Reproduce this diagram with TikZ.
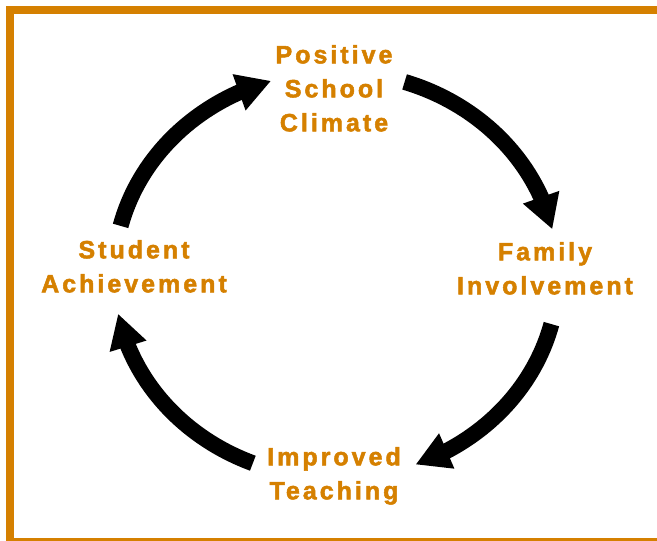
\documentclass[tikz,border=0pt]{standalone}
\usepackage{fontspec}
\setmainfont{Liberation Sans}
\newfontfamily\stagefont[LetterSpace=12,FakeBold=2]{Liberation Sans}
\usetikzlibrary{arrows.meta,bending,calc}
\definecolor{cycleorange}{RGB}{213,128,0}
\tikzstyle{stage} = [text=cycleorange, font=\stagefont\bfseries\fontsize{25}{34}\selectfont, align=center, inner sep=0pt, anchor=north]
\tikzstyle{cyclearrow} = [line width=16pt, -{Triangle[length=34pt,width=36pt]}]

\begin{document}
\begin{tikzpicture}[x=1pt, y=-1pt]
    \useasboundingbox (0,0) rectangle (657,541);
    \clip (0,0) rectangle (657,541);

    % frame
    \draw[cycleorange, line width=8pt] (10,10) rectangle (662,542);

    % stages of the cycle
    \node[stage] (climate) at (334,45) {Positive\\School\\Climate};
    \node[stage] (family) at (545,242) {Family\\Involvement};
    \node[stage] (teaching) at (334,447) {Improved\\Teaching};
    \node[stage] (achieve) at (134,240) {Student\\Achievement};

    % arrow ends on the ellipse
    \coordinate (c) at (336,275);
    \coordinate (a1) at ($(c)+(72:222pt and 203pt)$);
    \coordinate (a2) at ($(c)+(-14:222pt and 203pt)$);
    \coordinate (a3) at ($(c)+(248:222pt and 203pt)$);
    \coordinate (a4) at ($(c)+(166:222pt and 203pt)$);

    % arrows
    \draw[cyclearrow] (a1) arc[start angle=72, end angle=13, x radius=222pt, y radius=203pt];
    \draw[cyclearrow] (a2) arc[start angle=-14, end angle=-69, x radius=222pt, y radius=203pt];
    \draw[cyclearrow] (a3) arc[start angle=248, end angle=191, x radius=222pt, y radius=203pt];
    \draw[cyclearrow] (a4) arc[start angle=166, end angle=107, x radius=222pt, y radius=203pt];
\end{tikzpicture}
\end{document}
